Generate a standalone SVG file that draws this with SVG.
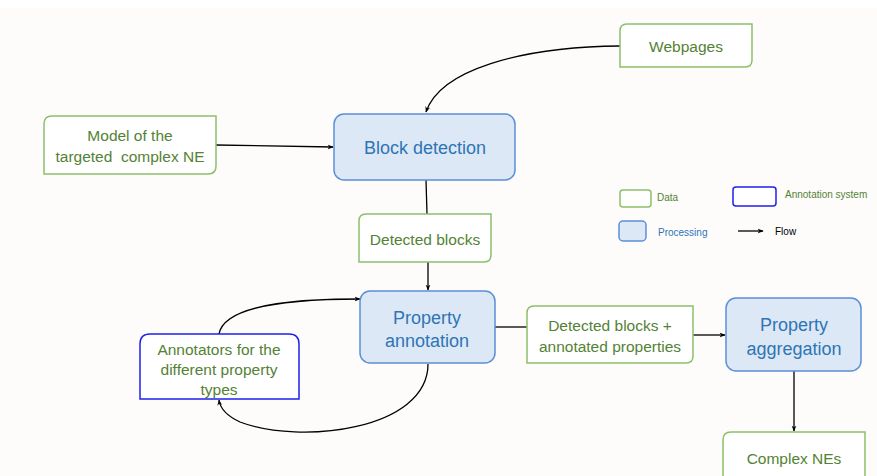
<svg xmlns="http://www.w3.org/2000/svg" width="877" height="476" viewBox="0 0 877 476">
<defs>
<style>
.data{fill:#ffffff;stroke:#8cc069;stroke-width:1.5}
.proc{fill:#dce8f5;stroke:#5b8fd8;stroke-width:1.5}
.ann{fill:#ffffff;stroke:#1f1fef;stroke-width:1.5}
.gt{font-family:"Liberation Sans",Arial,sans-serif;fill:#548235;text-anchor:middle;font-size:15.5px}
.bt{font-family:"Liberation Sans",Arial,sans-serif;fill:#2e75b6;text-anchor:middle;font-size:18px}
.lg{font-family:"Liberation Sans",Arial,sans-serif;font-size:10px}
.c{fill:none;stroke:#000;stroke-width:1.3}
</style>
<marker id="ah" viewBox="0 0 10 10" refX="9" refY="5" markerWidth="6" markerHeight="6" orient="auto" markerUnits="userSpaceOnUse"><path d="M0,1 L10,5 L0,9 L3,5 Z" fill="#000"/></marker>
</defs>
<rect x="0" y="0" width="877" height="476" fill="#fdfcfb"/>
<rect x="0" y="0" width="877" height="8" fill="#ffffff"/>

<g id="connectors">
<path class="c" d="M620,46 C520,47 440,70 426,112" marker-end="url(#ah)"/>
<path class="c" d="M216,145 L333,147" marker-end="url(#ah)"/>
<path class="c" d="M426,180 L427,214"/>
<path class="c" d="M428,262 L428,290" marker-end="url(#ah)"/>
<path class="c" d="M219,334 C225,300 320,299 360,299" marker-end="url(#ah)"/>
<path class="c" d="M428,364 C428,430 300,445 240,422 C225,415 220,408 219,400" marker-end="url(#ah)"/>
<path class="c" d="M495,327 L527,327"/>
<path class="c" d="M693,335 L725,335" marker-end="url(#ah)"/>
<path class="c" d="M794,371 L794,431" marker-end="url(#ah)"/>
<path class="c" d="M738,231 L763,231" marker-end="url(#ah)"/>
</g>

<g id="webpages">
<path class="data" d="M627,24 H752 V60 Q752,67 745,67 H620 V31 Q620,24 627,24 Z"/>
<text class="gt" x="686" y="52">Webpages</text>
</g>

<g id="model">
<path class="data" d="M52,116 H216 V166 Q216,174 208,174 H44 V124 Q44,116 52,116 Z"/>
<text class="gt" x="130" y="141">Model of the</text>
<text class="gt" x="130" y="162" xml:space="preserve">targeted  complex NE</text>
</g>

<g id="block-detection">
<rect class="proc" x="334" y="114" width="181" height="66" rx="10"/>
<text class="bt" x="425" y="154">Block detection</text>
</g>

<g id="detected-blocks">
<path class="data" d="M366,214 H491 V255 Q491,262 484,262 H359 V221 Q359,214 366,214 Z"/>
<text class="gt" x="425" y="245">Detected blocks</text>
</g>

<g id="property-annotation">
<rect class="proc" x="360" y="291" width="135" height="72" rx="10"/>
<text class="bt" x="427" y="324">Property</text>
<text class="bt" x="427" y="347">annotation</text>
</g>

<g id="annotators">
<path class="ann" d="M150,334 H289 Q299,334 299,344 V399 H140 V344 Q140,334 150,334 Z"/>
<text class="gt" x="219" y="355">Annotators for the</text>
<text class="gt" x="219" y="375">different property</text>
<text class="gt" x="219" y="395">types</text>
</g>

<g id="detected-annotated">
<path class="data" d="M534,306 H693 V356 Q693,363 686,363 H527 V313 Q527,306 534,306 Z"/>
<text class="gt" x="610" y="331">Detected blocks +</text>
<text class="gt" x="610" y="352">annotated properties</text>
</g>

<g id="property-aggregation">
<rect class="proc" x="726" y="298" width="135" height="73" rx="10"/>
<text class="bt" x="794" y="331">Property</text>
<text class="bt" x="794" y="355">aggregation</text>
</g>

<g id="complex-nes">
<path class="data" d="M731,432 H865 V480 H723 V440 Q723,432 731,432 Z"/>
<text class="gt" x="794" y="464">Complex NEs</text>
</g>

<g id="legend">
<rect class="data" x="620" y="190" width="31" height="17" rx="3"/>
<text class="lg" x="657" y="201" fill="#548235">Data</text>
<rect class="ann" x="733" y="187" width="43" height="19" rx="3"/>
<text class="lg" x="785" y="198" fill="#548235">Annotation system</text>
<rect class="proc" x="619" y="221" width="27" height="20" rx="4"/>
<text class="lg" x="658" y="236" fill="#2e75b6">Processing</text>
<text class="lg" x="775" y="235" fill="#000">Flow</text>
</g>
</svg>
